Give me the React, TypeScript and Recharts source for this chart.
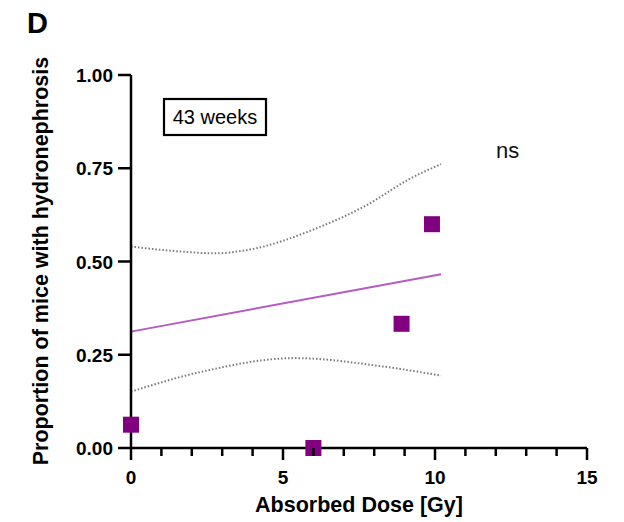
import React from 'react';
import { ComposedChart, XAxis, YAxis, Line, Scatter } from 'recharts';

// Observed proportions
const doseGy = [0, 6, 8.9, 9.9];
const proportion = [0.0625, 0, 0.333, 0.6];

// Linear fit
const fitX = [0, 10.2];
const fitY = [0.312, 0.466];

// 95% confidence band
const upperX = [0, 1.3, 2.8, 3.9, 6.1, 7.75, 9.2, 10.2];
const upperY = [0.54, 0.529, 0.522, 0.532, 0.589, 0.651, 0.723, 0.761];
const lowerX = [0, 2.35, 5.4, 8.33, 10.2];
const lowerY = [0.151, 0.205, 0.241, 0.218, 0.194];

const xTicks = [0, 1, 2, 3, 4, 5, 6, 7, 8, 9, 10, 11, 12, 13, 14, 15];
const yTicks = [0, 0.25, 0.5, 0.75, 1];

const points = doseGy.map((x, i) => ({ x, y: proportion[i] }));
const fit = fitX.map((x, i) => ({ x, y: fitY[i] }));
const upper = upperX.map((x, i) => ({ x, y: upperY[i] }));
const lower = lowerX.map((x, i) => ({ x, y: lowerY[i] }));

const FONT = '"Liberation Sans", Arial, Helvetica, sans-serif';
const PURPLE = '#800080';

const XTick = (props: any) => {
  const { x, y, payload } = props;
  const major = payload.value % 5 === 0;
  return (
    <g>
      <line x1={x} x2={x} y1={y} y2={y + (major ? 12 : 8)} stroke="#000" strokeWidth={2.5} />
      {major && (
        <text x={x} y={y + 36} textAnchor="middle" fontFamily={FONT} fontWeight="bold" fontSize={19} fill="#000">
          {payload.value}
        </text>
      )}
    </g>
  );
};

const YTick = (props: any) => {
  const { x, y, payload } = props;
  return (
    <g>
      <line x1={x - 13} x2={x} y1={y} y2={y} stroke="#000" strokeWidth={2.5} />
      <text x={x - 18} y={y + 7} textAnchor="end" fontFamily={FONT} fontWeight="bold" fontSize={19} fill="#000">
        {Number(payload.value).toFixed(2)}
      </text>
    </g>
  );
};

const Square = (props: any) => {
  const { cx, cy } = props;
  return <rect x={cx - 8} y={cy - 8} width={16} height={16} fill={PURPLE} />;
};

export default function App() {
  return (
    <div style={{ position: 'absolute', left: 0, top: 0, width: 624, height: 522, background: '#fff' }}>
      <ComposedChart width={624} height={522} margin={{ top: 75, right: 37, bottom: 0, left: 0 }}>
        <XAxis
          type="number"
          dataKey="x"
          domain={[0, 15]}
          ticks={xTicks}
          interval={0}
          height={74}
          tickSize={0}
          tickMargin={0}
          tick={<XTick />}
          axisLine={{ stroke: '#000', strokeWidth: 2.5 }}
          tickLine={false}
        />
        <YAxis
          type="number"
          dataKey="y"
          domain={[0, 1]}
          ticks={yTicks}
          interval={0}
          width={131}
          tickSize={0}
          tickMargin={0}
          tick={<YTick />}
          axisLine={{ stroke: '#000', strokeWidth: 2.5 }}
          tickLine={false}
        />
        <Line data={upper} dataKey="y" type="monotone" stroke="#7a7a7a" strokeWidth={2} strokeDasharray="1.5 2" dot={false} activeDot={false} isAnimationActive={false} />
        <Line data={lower} dataKey="y" type="monotone" stroke="#7a7a7a" strokeWidth={2} strokeDasharray="1.5 2" dot={false} activeDot={false} isAnimationActive={false} />
        <Line data={fit} dataKey="y" type="linear" stroke="#b45cc0" strokeWidth={2} dot={false} activeDot={false} isAnimationActive={false} />
        <Scatter data={points} dataKey="y" shape={<Square />} isAnimationActive={false} />
      </ComposedChart>
      <svg width={624} height={522} style={{ position: 'absolute', left: 0, top: 0, pointerEvents: 'none' }}>
        <text x={27} y={33} fontFamily={FONT} fontWeight="bold" fontSize={29} fill="#000">D</text>
        <text
          transform="translate(48, 261) rotate(-90)"
          textAnchor="middle"
          fontFamily={FONT}
          fontWeight="bold"
          fontSize={21.5}
          fill="#000"
        >
          Proportion of mice with hydronephrosis
        </text>
        <text x={359} y={512} textAnchor="middle" fontFamily={FONT} fontWeight="bold" fontSize={21.5} fill="#000">
          Absorbed Dose [Gy]
        </text>
        <rect x={164} y={99} width={102} height={36} fill="#fff" stroke="#000" strokeWidth={2.2} />
        <text x={215} y={124} textAnchor="middle" fontFamily={FONT} fontSize={20} fill="#000">43 weeks</text>
        <text x={496} y={158} fontFamily={FONT} fontSize={22} fill="#111">ns</text>
      </svg>
    </div>
  );
}
